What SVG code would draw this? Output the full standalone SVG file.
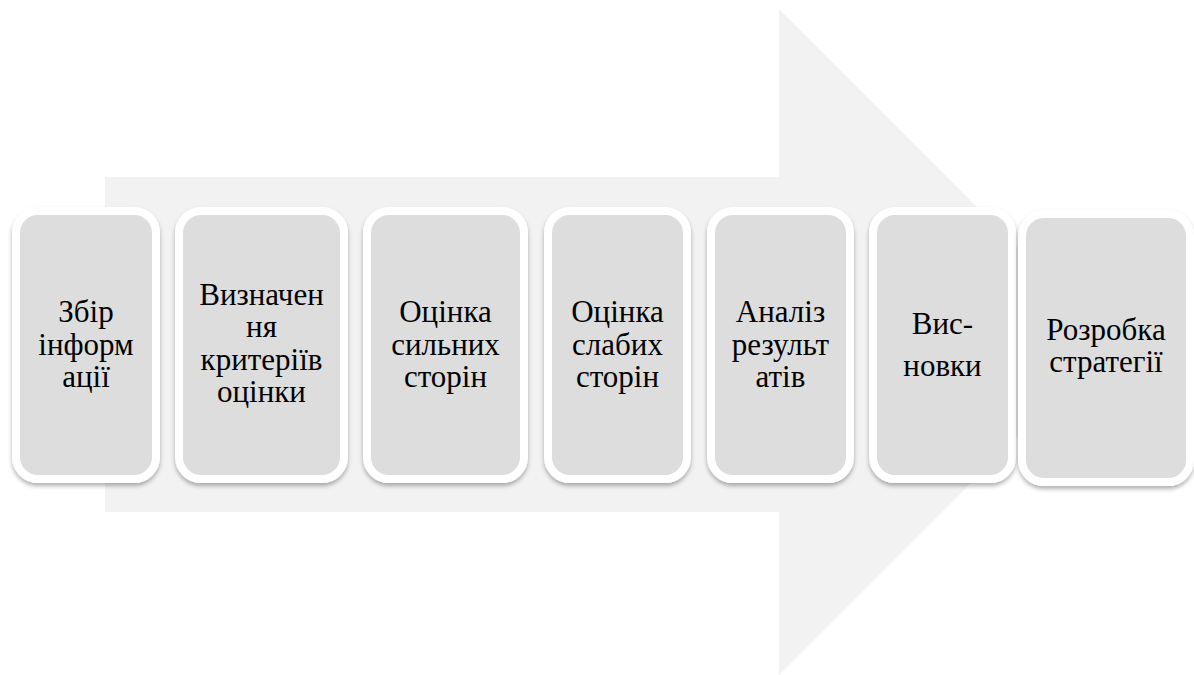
<svg xmlns="http://www.w3.org/2000/svg" width="1194" height="675" viewBox="0 0 1194 675" xml:lang="uk" lang="uk">
<defs>
<filter id="sh" x="-10%" y="-10%" width="120%" height="120%">
<feDropShadow dx="0" dy="3" stdDeviation="2" flood-color="#000" flood-opacity="0.3"/>
</filter>
</defs>
<style>
.box{fill:#dddddd;stroke:#ffffff;stroke-width:8;filter:url(#sh)}
text{font-family:'Liberation Serif','Times New Roman','DejaVu Serif',serif;font-size:31px;text-anchor:middle;fill:#000000}
</style>
<rect width="1194" height="675" fill="#ffffff"/>
<g id="arrow">
<polygon points="105,177 779,177 779,9 1112,342 779,675 779,512 105,512" fill="#f2f2f2"/>
</g>
<g id="connectors"></g>
<g id="n1">
<rect class="box" x="16" y="211" width="140" height="268" rx="22"/>
<text x="86" y="322">Збір</text>
<text x="86" y="355">інформ</text>
<text x="86" y="387">ації</text>
</g>
<g id="n2">
<rect class="box" x="179" y="211" width="165" height="268" rx="22"/>
<text x="261.5" y="305">Визначен</text>
<text x="261.5" y="337">ня</text>
<text x="261.5" y="370">критеріїв</text>
<text x="261.5" y="402">оцінки</text>
</g>
<g id="n3">
<rect class="box" x="367" y="211" width="157" height="268" rx="22"/>
<text x="445.5" y="322">Оцінка</text>
<text x="445.5" y="355">сильних</text>
<text x="445.5" y="387">сторін</text>
</g>
<g id="n4">
<rect class="box" x="548" y="211" width="139" height="268" rx="22"/>
<text x="617.5" y="322">Оцінка</text>
<text x="617.5" y="355">слабих</text>
<text x="617.5" y="387">сторін</text>
</g>
<g id="n5">
<rect class="box" x="711" y="211" width="139" height="268" rx="22"/>
<text x="780.5" y="322">Аналіз</text>
<text x="780.5" y="355">результ</text>
<text x="780.5" y="387">атів</text>
</g>
<g id="n6">
<rect class="box" x="873" y="211" width="139" height="268" rx="22"/>
<text x="942.5" y="334">Вис-</text>
<text x="942.5" y="376">новки</text>
</g>
<g id="n7">
<rect class="box" x="1022" y="214" width="168" height="268" rx="22"/>
<text x="1106" y="340">Розробка</text>
<text x="1106" y="372">стратегії</text>
</g>
</svg>
